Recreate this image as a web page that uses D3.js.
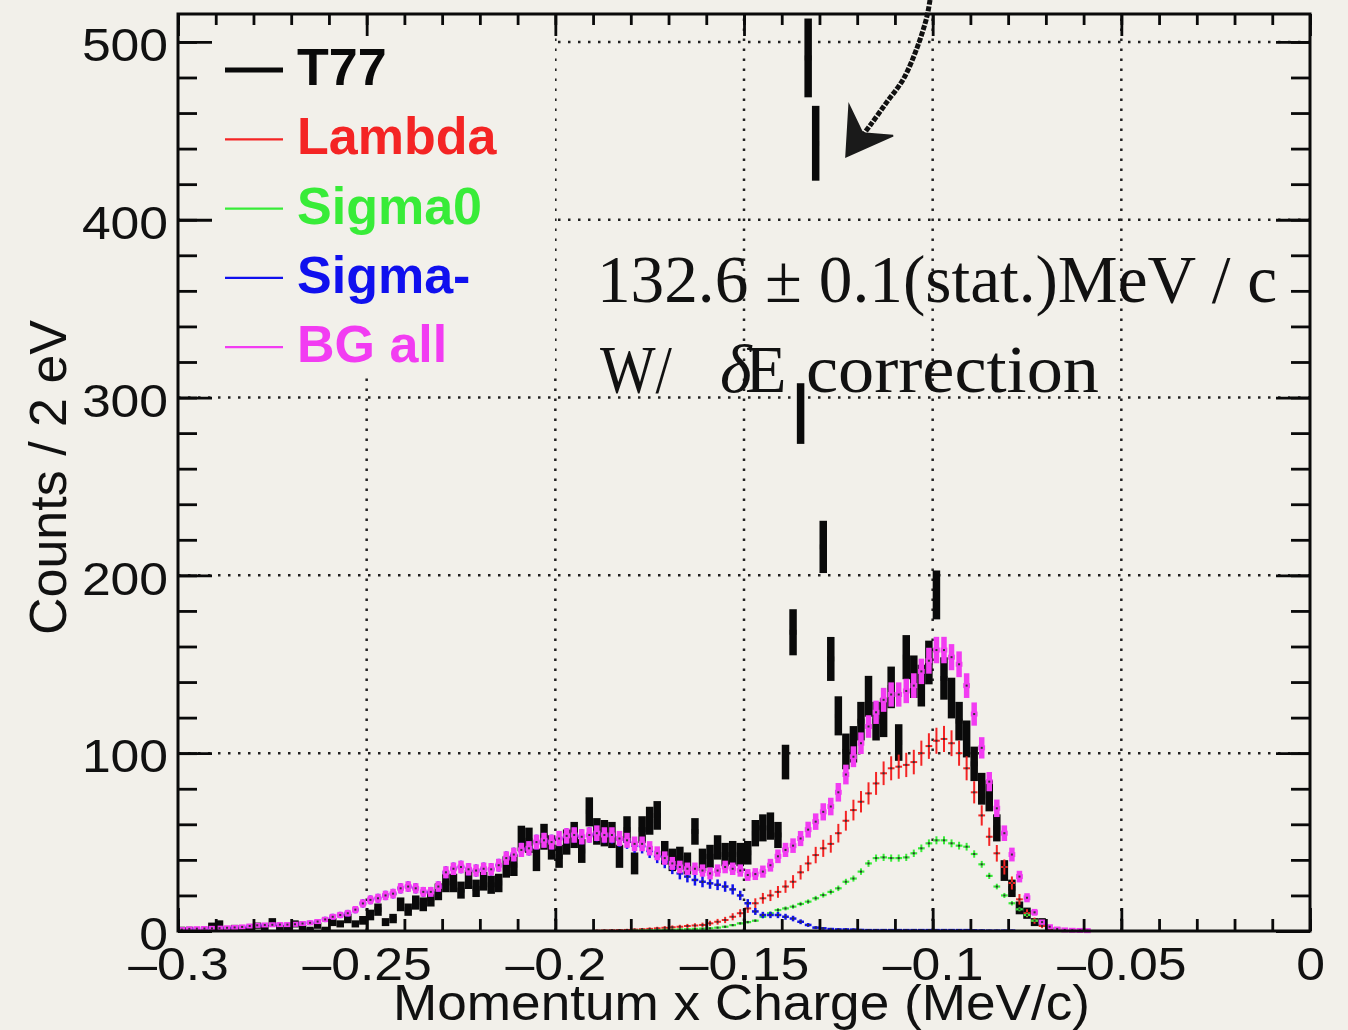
<!DOCTYPE html>
<html>
<head>
<meta charset="utf-8">
<script src="https://cdnjs.cloudflare.com/ajax/libs/d3/7.8.5/d3.min.js"></script>
<style>
	body { margin: 0; background: #f2f0ea; }
	svg { display: block; }
</style>
</head>
<body>
<div id="chart"></div>
<script>
// Histogram binning (150 bins from -0.3 to 0)
var binLow = -0.3,
	binWidth = 0.002;

// Counts per bin
var t77 = [
	1,1,0,0,3,4,1,2,1,1,
	3,2,5,2,1,4,2,1,3,1,
	5,4,7,4,6,9,12,5,7,15,
	12,16,15,18,22,27,27,23,29,24,
	28,26,27,36,37,52,51,40,53,47,
	42,50,54,45,67,56,55,54,42,57,
	38,57,62,65,44,40,41,38,56,40,
	42,47,43,44,43,44,55,58,59,54,
	95,168,291,491,443,216,153,121,101,105,
	118,132,118,120,137,106,154,143,138,151,
	189,142,131,118,108,94,80,76,58,34,
	24,13,10,5,5,1,0,0,0,0,
	0,0,0,0,0,0,0,0,0,0,
	0,0,0,0,0,0,0,0,0,0,
	0,0,0,0,0,0,0,0,0,0
];

var lambda = [
	0,0,0,0,0,0,0,0,0,0,
	0,0,0,0,0,0,0,0,0,0,
	0,0,0,0,0,0,0,0,0,0,
	0,0,0,0,0,0,0,0,0,0,
	0,0,0,0,0,0,0,0,0,0,
	0,0,0,0,0,0.2,0.3,0.4,0.5,0.6,
	0.8,1,1.2,1.5,1.8,2.1,2.4,2.8,3.1,3.4,
	4.3,5.2,6.2,8,10,12.7,15.6,18.4,20,22,
	25,27.7,33,38,42.7,46.5,49,55,62,68,
	72.7,77.4,83,88.7,91.5,92.4,93.4,95,100,104,
	107,108,105.6,100,91.5,78,65,53,43.7,36,
	27,17.8,10,5.8,2.8,1.5,0.6,0.3,0.2,0,
	0,0,0,0,0,0,0,0,0,0,
	0,0,0,0,0,0,0,0,0,0,
	0,0,0,0,0,0,0,0,0,0
];

var sigma0 = [
	0,0,0,0,0,0,0,0,0,0,
	0,0,0,0,0,0,0,0,0,0,
	0,0,0,0,0,0,0,0,0,0,
	0,0,0,0,0,0,0,0,0,0,
	0,0,0,0,0,0,0,0,0,0,
	0,0,0,0,0,0,0,0,0,0,
	0.2,0.3,0.4,0.5,0.6,0.7,0.9,1,1.2,1.3,
	1.5,1.9,2.4,3.3,4.3,5,5.8,8,10,11.8,
	12.7,13.7,15.2,16.5,18.4,20.2,22,24,27.7,29.5,
	33.4,38,41,41.4,41,41,41.4,43.7,46.5,49.3,
	51,51,49.3,48,47.4,43.3,37.5,31,25,20,
	15.6,12.2,9,5.8,4.3,2.4,1.5,0.6,0.3,0,
	0,0,0,0,0,0,0,0,0,0,
	0,0,0,0,0,0,0,0,0,0,
	0,0,0,0,0,0,0,0,0,0
];

var sigmaMinus = [
	0.8,1.2,1.3,1.4,1.5,1.6,1.8,2,2.3,2.8,
	3.2,3.4,3.5,3.6,3.6,3.8,4.2,4.6,5.3,6.5,
	8,9,10,12,15.5,17.5,18.4,20,21,24,
	25,24,22,22,25,33,35,36,34.7,34,
	35,34.7,37,41,43,45.6,46.5,50,51,50,
	52,53.5,54,53,54,54.8,53.7,53.6,51.5,50.4,
	48,47.7,45,42,39,35.5,32.4,30.6,28.7,27.7,
	26.8,26,25,23.4,20,15.6,11,9,9,9,
	8,7,5.2,3.4,1.9,1.5,1.1,0.9,0.9,0.8,
	0.6,0.5,0.5,0.5,0.5,0.5,0.5,0.5,0.5,0.5,
	0.5,0.5,0.5,0.5,0.5,0.4,0.3,0.2,0.2,0.2,
	0.2,0,0,0,0,0,0,0,0,0,
	0,0,0,0,0,0,0,0,0,0,
	0,0,0,0,0,0,0,0,0,0,
	0,0,0,0,0,0,0,0,0,0
];

var bgAll = [
	0.8,1.2,1.3,1.4,1.5,1.6,1.8,2,2.3,2.8,
	3.2,3.4,3.5,3.6,3.6,3.8,4.2,4.6,5.3,6.5,
	8,9,10,12,15.5,17.5,18.4,20,21,24,
	25,24,22,22,25,33,35,36,34.7,34,
	35,34.7,37,41,43,45.6,46.5,50,51,50,
	52,53.5,54,53,54,55,54,54,52,51,
	49,49,46.5,43.7,41,38,36,35,35,34,
	32.4,34,36,35,34,31.5,32,33.4,37,42,
	45.6,48,52,57,61.5,67,70,78,88,98,
	105.6,115,123,130,133,133,135,138,146,152,
	158,158,154,150,138,122,103,84,69,55,
	43,30.6,18.7,10.5,5,2.4,1.1,0.6,0.4,0.3,
	0.2,0,0,0,0,0,0,0,0,0,
	0,0,0,0,0,0,0,0,0,0,
	0,0,0,0,0,0,0,0,0,0
];

// Axis ticks and labels
var xTicks = [-0.3, -0.25, -0.2, -0.15, -0.1, -0.05, 0];
var xTickLabels = ['\u20130.3', '\u20130.25', '\u20130.2', '\u20130.15', '\u20130.1', '\u20130.05', '0'];
var yTicks = [0, 100, 200, 300, 400, 500];
var legendLabels = ['T77', 'Lambda', 'Sigma0', 'Sigma-', 'BG all'];

// Annotation arrow, in data units (momentum, counts)
var arrowShaft = [[-0.1007, 523.6], [-0.1016, 513.6], [-0.1042, 496.3], [-0.1078, 479], [-0.1122, 466], [-0.1166, 453], [-0.1192, 446]];
var arrowHead = [[-0.1229, 435.6], [-0.1221, 464], [-0.1186, 448.6], [-0.1105, 447.3]];

var width = 1348,
	height = 1030,
	margin = {top: 14, right: 38, bottom: 99, left: 178},
	bg = '#f2f0ea',
	tickFont = 'Liberation Sans, Arial, Helvetica, sans-serif';

var svg = d3.select('#chart').append('svg')
	.attr('width', width)
	.attr('height', height);

svg.append('rect')
	.attr('width', width)
	.attr('height', height)
	.attr('fill', bg);

var x = d3.scaleLinear()
	.domain([-0.3, 0])
	.range([margin.left, width - margin.right]);

var y = d3.scaleLinear()
	.domain([0, 515.7])
	.range([height - margin.bottom, margin.top]);

var x0 = x.range()[0], x1 = x.range()[1],
	y0 = y.range()[0], y1 = y.range()[1];

// Dotted grid
var grid = svg.append('g')
	.attr('stroke', '#222')
	.attr('stroke-width', 2.5)
	.attr('stroke-dasharray', '2.5,7.5');

grid.selectAll('line.gx')
	.data(xTicks.slice(1, -1))
	.enter().append('line')
	.attr('x1', function(d) { return x(d); })
	.attr('x2', function(d) { return x(d); })
	.attr('y1', y0)
	.attr('y2', y1);

grid.selectAll('line.gy')
	.data(yTicks.slice(1))
	.enter().append('line')
	.attr('y1', function(d) { return y(d); })
	.attr('y2', function(d) { return y(d); })
	.attr('x1', x0)
	.attr('x2', x1);

// Draw one histogram with error bars
function drawSeries(values, color, errScale, vWidth, hWidth, dots) {
	var pts = values.map(function(v, i) {
		return {
			lo: binLow + i * binWidth,
			hi: binLow + (i + 1) * binWidth,
			mid: binLow + (i + 0.5) * binWidth,
			v: v,
			e: Math.sqrt(errScale * v)
		};
	}).filter(function(d) { return d.v > 0; });

	var g = svg.append('g').attr('stroke', color);

	g.selectAll('line.h')
		.data(pts)
		.enter().append('line')
		.attr('x1', function(d) { return x(d.lo) + 0.4; })
		.attr('x2', function(d) { return x(d.hi) - 0.4; })
		.attr('y1', function(d) { return y(d.v); })
		.attr('y2', function(d) { return y(d.v); })
		.attr('stroke-width', hWidth);

	g.selectAll('line.v')
		.data(pts)
		.enter().append('line')
		.attr('x1', function(d) { return x(d.mid); })
		.attr('x2', function(d) { return x(d.mid); })
		.attr('y1', function(d) { return y(d.v - d.e); })
		.attr('y2', function(d) { return y(d.v + d.e); })
		.attr('stroke-width', vWidth);

	if (dots) {
		g.selectAll('rect')
			.data(pts)
			.enter().append('rect')
			.attr('x', function(d) { return x(d.mid) - 1; })
			.attr('y', function(d) { return y(d.v) - 1; })
			.attr('width', 2)
			.attr('height', 2)
			.attr('stroke', 'none')
			.attr('fill', '#333');
	}
}

drawSeries(t77, '#0a0a0a', 1, 7.5, 5, false);
drawSeries(lambda, '#f42424', 0.5, 2, 2, true);
drawSeries(sigma0, '#38ec38', 0.1, 2, 2.2, true);
drawSeries(sigmaMinus, '#1010ee', 0.35, 2.5, 2.5, true);
drawSeries(bgAll, '#f23cf2', 0.35, 5.5, 5, true);

// Legend box (covers the grid)
var colors = ['#0a0a0a', '#f42424', '#38ec38', '#1010ee', '#f23cf2'];

svg.append('rect')
	.attr('x', x0 + 2)
	.attr('y', y1 + 2)
	.attr('width', 375)
	.attr('height', 362)
	.attr('fill', bg);

var legend = svg.append('g')
	.attr('transform', 'translate(0,85)');

legend.selectAll('line')
	.data(legendLabels)
	.enter().append('line')
	.attr('x1', 225)
	.attr('x2', 283)
	.attr('y1', function(d, i) { return i * 69.3 - 15; })
	.attr('y2', function(d, i) { return i * 69.3 - 15; })
	.attr('stroke', function(d, i) { return colors[i]; })
	.attr('stroke-width', function(d, i) { return i === 0 ? 5 : 2.2; });

legend.selectAll('text')
	.data(legendLabels)
	.enter().append('text')
	.attr('x', 297)
	.attr('y', function(d, i) { return i * 69.3; })
	.attr('fill', function(d, i) { return colors[i]; })
	.attr('font-family', tickFont)
	.attr('font-weight', 'bold')
	.attr('font-size', 52)
	.text(function(d) { return d; });

// Annotation text
var note = svg.append('g')
	.attr('font-family', 'Liberation Serif, Times New Roman, serif')
	.attr('font-size', 68)
	.attr('fill', '#111');

note.append('text')
	.attr('x', 597)
	.attr('y', 302)
	.attr('textLength', 680)
	.attr('lengthAdjust', 'spacingAndGlyphs')
	.text('132.6 \u00b1 0.1(stat.)MeV / c');

note.append('text')
	.attr('x', 600)
	.attr('y', 392)
	.attr('textLength', 72)
	.attr('lengthAdjust', 'spacingAndGlyphs')
	.text('W/');

note.append('text')
	.attr('x', 720)
	.attr('y', 392)
	.attr('font-style', 'italic')
	.text('\u03b4');

note.append('text')
	.attr('x', 745)
	.attr('y', 392)
	.text('E');

note.append('text')
	.attr('x', 806)
	.attr('y', 392)
	.attr('textLength', 293)
	.attr('lengthAdjust', 'spacingAndGlyphs')
	.text('correction');

// Axes: inner ticks on all four sides
var minorX = d3.range(31).map(function(i) { return -0.3 + i * 0.01; });
var minorY = d3.range(0, 516, 20);

function styleAxis(g) {
	g.select('.domain').remove();
	g.selectAll('line').attr('stroke', '#0a0a0a').attr('stroke-width', 2.8);
	g.attr('font-family', tickFont).attr('font-size', 47);
	g.selectAll('text').attr('fill', '#111');
}

svg.append('g')
	.attr('transform', 'translate(0,' + y0 + ')')
	.call(d3.axisBottom(x).tickValues(minorX).tickSize(-12).tickFormat(''))
	.call(styleAxis);

svg.append('g')
	.attr('transform', 'translate(0,' + y0 + ')')
	.call(d3.axisBottom(x).tickValues(xTicks).tickSize(-23).tickPadding(16)
		.tickFormat(function(d, i) { return xTickLabels[i]; }))
	.call(styleAxis)
	.selectAll('text').attr('transform', 'scale(1.1,1)');

svg.append('g')
	.attr('transform', 'translate(0,' + y1 + ')')
	.call(d3.axisTop(x).tickValues(minorX).tickSize(-11).tickFormat(''))
	.call(styleAxis);

svg.append('g')
	.attr('transform', 'translate(0,' + y1 + ')')
	.call(d3.axisTop(x).tickValues(xTicks).tickSize(-22).tickFormat(''))
	.call(styleAxis);

svg.append('g')
	.attr('transform', 'translate(' + x0 + ',0)')
	.call(d3.axisLeft(y).tickValues(minorY).tickSize(-19).tickFormat(''))
	.call(styleAxis);

svg.append('g')
	.attr('transform', 'translate(' + x0 + ',0)')
	.call(d3.axisLeft(y).tickValues(yTicks).tickSize(-34).tickPadding(9))
	.call(styleAxis)
	.selectAll('text')
	.attr('dy', '0.4em')
	.attr('transform', 'scale(1.1,1)');

svg.append('g')
	.attr('transform', 'translate(' + x1 + ',0)')
	.call(d3.axisRight(y).tickValues(minorY).tickSize(-19).tickFormat(''))
	.call(styleAxis);

svg.append('g')
	.attr('transform', 'translate(' + x1 + ',0)')
	.call(d3.axisRight(y).tickValues(yTicks).tickSize(-34).tickFormat(''))
	.call(styleAxis);

// Frame
svg.append('rect')
	.attr('x', x0)
	.attr('y', y1)
	.attr('width', x1 - x0)
	.attr('height', y0 - y1)
	.attr('fill', 'none')
	.attr('stroke', '#0a0a0a')
	.attr('stroke-width', 3);

// Axis titles
svg.append('text')
	.attr('x', 1090)
	.attr('y', 1020)
	.attr('text-anchor', 'end')
	.attr('font-family', tickFont)
	.attr('font-size', 50)
	.attr('textLength', 697)
	.attr('lengthAdjust', 'spacingAndGlyphs')
	.attr('fill', '#111')
	.text('Momentum x Charge (MeV/c)');

svg.append('text')
	.attr('transform', 'translate(66,320) rotate(-90)')
	.attr('text-anchor', 'end')
	.attr('font-family', tickFont)
	.attr('font-size', 52)
	.attr('fill', '#111')
	.text('Counts / 2 eV');

// Hand-drawn arrow pointing at the peak
var line = d3.line()
	.x(function(d) { return x(d[0]); })
	.y(function(d) { return y(d[1]); })
	.curve(d3.curveCatmullRom);

svg.append('path')
	.attr('d', line(arrowShaft))
	.attr('fill', 'none')
	.attr('stroke', '#111')
	.attr('stroke-width', 5)
	.attr('stroke-dasharray', '5,1.5');

svg.append('path')
	.attr('d', d3.line()
		.x(function(d) { return x(d[0]); })
		.y(function(d) { return y(d[1]); })(arrowHead) + 'Z')
	.attr('fill', '#1a1a1a')
	.attr('stroke', '#1a1a1a')
	.attr('stroke-width', 2);
</script>
</body>
</html>
